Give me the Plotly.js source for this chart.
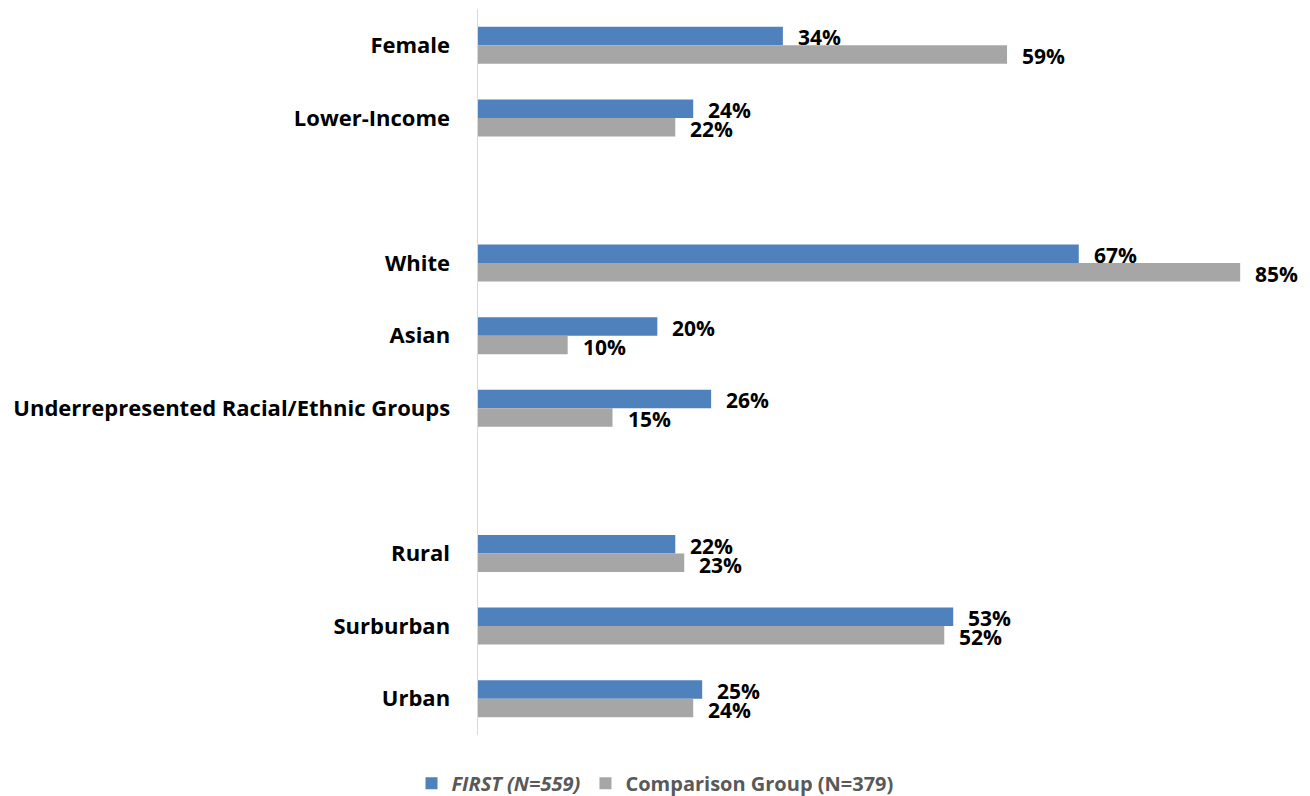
<!DOCTYPE html>
<html>
<head>
<meta charset="utf-8">
<script src="https://cdn.plot.ly/plotly-3.0.1.min.js"></script>
<style>html,body{margin:0;padding:0;background:#fff;}#chart{width:1310px;height:796px;}</style>
</head>
<body>
<div id="chart"></div>
<script>
const categories = ["Female", "Lower-Income", " ", "White", "Asian", "Underrepresented Racial/Ethnic Groups", "  ", "Rural", "Surburban", "Urban"];
const firstValues = [34, 24, null, 67, 20, 26, null, 22, 53, 25];
const comparisonValues = [59, 22, null, 85, 10, 15, null, 23, 52, 24];
const seriesNames = ["<b><i>FIRST (N=559)</i></b>", "<b>Comparison Group (N=379)</b>"];

const FONT = "'Open Sans', sans-serif";

const traces = [
  {type: "bar", orientation: "h", y: categories, x: firstValues, name: seriesNames[0],
   marker: {color: "#4f81bd"}, hoverinfo: "x"},
  {type: "bar", orientation: "h", y: categories, x: comparisonValues, name: seriesNames[1],
   marker: {color: "#a6a6a6"}, hoverinfo: "x"}
];

const annotations = [];
categories.forEach((c, i) => {
  if (firstValues[i] != null) {
    annotations.push({x: firstValues[i], y: c, xref: "x", yref: "y", text: "<b>" + firstValues[i] + "%</b>",
      showarrow: false, xanchor: "left", yanchor: "middle", xshift: 13, yshift: 8,
      font: {family: FONT, size: 21, color: "#000"}});
  }
  if (comparisonValues[i] != null) {
    annotations.push({x: comparisonValues[i], y: c, xref: "x", yref: "y", text: "<b>" + comparisonValues[i] + "%</b>",
      showarrow: false, xanchor: "left", yanchor: "middle", xshift: 13, yshift: -11,
      font: {family: FONT, size: 21, color: "#000"}});
  }
});

const layout = {
  width: 1310, height: 796,
  margin: {l: 478, r: 25, t: 9, b: 61, pad: 0},
  paper_bgcolor: "#fff", plot_bgcolor: "#fff",
  font: {family: FONT},
  barmode: "group", bargap: 0.49, bargroupgap: 0,
  showlegend: true,
  legend: {orientation: "h", xref: "container", yref: "container", x: 0.5, xanchor: "center", y: 0.016, yanchor: "middle",
    font: {family: FONT, size: 20, color: "#595959"}, traceorder: "normal", itemwidth: 30},
  xaxis: {range: [0, 90], autorange: false, showgrid: false, zeroline: false, showticklabels: false, showline: false, ticks: "", fixedrange: true},
  yaxis: {type: "category", categoryorder: "array", categoryarray: categories, autorange: "reversed",
    showgrid: false, zeroline: false, showline: true, linecolor: "#d9d9d9", linewidth: 1.5,
    ticks: "", ticklabelstandoff: 22, tickfont: {family: FONT, size: 22, color: "#000", weight: "bold"}},
  annotations: annotations
};

Plotly.newPlot("chart", traces, layout, {displayModeBar: false, staticPlot: true});
</script>
</body>
</html>
